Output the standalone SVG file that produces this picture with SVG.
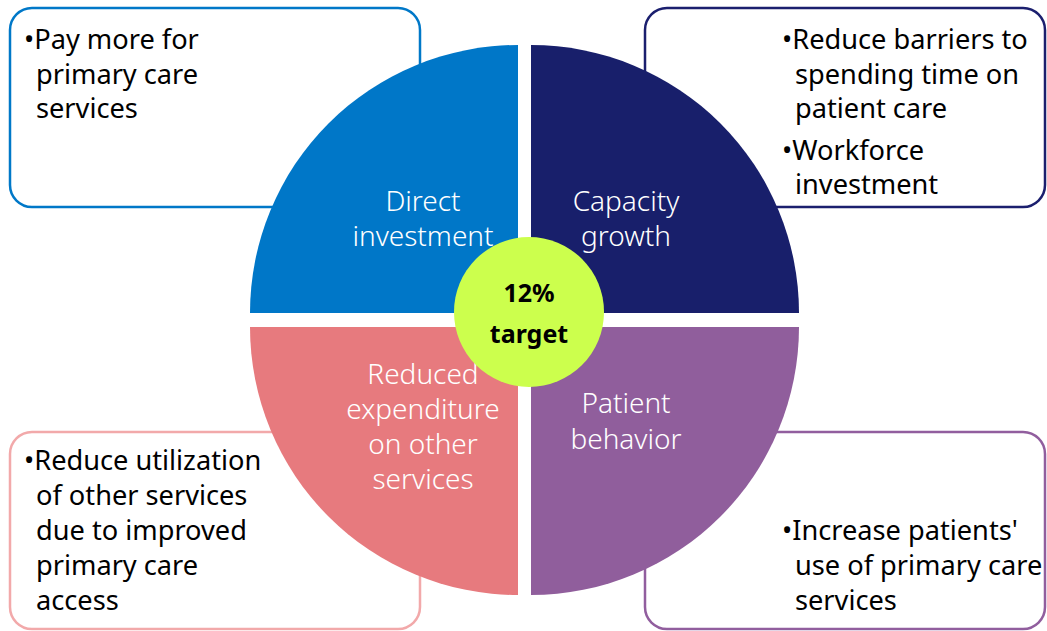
<svg xmlns="http://www.w3.org/2000/svg" width="1047" height="631" viewBox="0 0 1047 631">
<style>
.box{fill:#fff;stroke-width:2.5}
.bt{font-family:"Noto Sans","Open Sans",sans-serif;font-size:27.2px;fill:#000}
.ql{font-family:"Noto Sans","Open Sans",sans-serif;font-size:28px;fill:#fff;text-anchor:middle;font-weight:300}
.ct{font-family:"Noto Sans","Open Sans",sans-serif;font-size:25px;font-weight:bold;fill:#000;text-anchor:middle}
</style>
<rect width="1047" height="631" fill="#fff"/>
<g id="box-tl"><rect class="box" x="10" y="8" width="410" height="199" rx="22" stroke="#0078c8"/>
<text class="bt"><tspan x="24" y="49">•Pay more for</tspan><tspan x="36" y="84">primary care</tspan><tspan x="36" y="118">services</tspan></text></g>
<g id="box-tr"><rect class="box" x="645" y="8" width="400" height="199" rx="22" stroke="#1b1f6e"/>
<text class="bt"><tspan x="782" y="49">•Reduce barriers to</tspan><tspan x="795" y="84">spending time on</tspan><tspan x="795" y="118">patient care</tspan><tspan x="782" y="160">•Workforce</tspan><tspan x="795" y="194">investment</tspan></text></g>
<g id="box-bl"><rect class="box" x="10" y="432" width="410" height="197" rx="22" stroke="#f2a9aa"/>
<text class="bt"><tspan x="24" y="470">•Reduce utilization</tspan><tspan x="36" y="505">of other services</tspan><tspan x="36" y="540">due to improved</tspan><tspan x="36" y="575">primary care</tspan><tspan x="36" y="610">access</tspan></text></g>
<g id="box-br"><rect class="box" x="645" y="432" width="400" height="197" rx="22" stroke="#915e9e"/>
<text class="bt"><tspan x="782" y="540">•Increase patients'</tspan><tspan x="795" y="575">use of primary care</tspan><tspan x="795" y="610">services</tspan></text></g>
<g id="q-tl"><path d="M518,313 L250,313 A268,268 0 0 1 518,45 Z" fill="#0077c8"/>
<text class="ql"><tspan x="423" y="211">Direct</tspan><tspan x="423" y="246">investment</tspan></text></g>
<g id="q-tr"><path d="M531,313 L531,45 A268,268 0 0 1 799,313 Z" fill="#181f6b"/>
<text class="ql"><tspan x="626" y="211">Capacity</tspan><tspan x="626" y="246">growth</tspan></text></g>
<g id="q-bl"><path d="M518,327 L518,595 A268,268 0 0 1 250,327 Z" fill="#e77a7e"/>
<text class="ql"><tspan x="423" y="384">Reduced</tspan><tspan x="423" y="419">expenditure</tspan><tspan x="423" y="454">on other</tspan><tspan x="423" y="489">services</tspan></text></g>
<g id="q-br"><path d="M531,327 L799,327 A268,268 0 0 1 531,595 Z" fill="#905e9c"/>
<text class="ql"><tspan x="626" y="413">Patient</tspan><tspan x="626" y="449">behavior</tspan></text></g>
<g id="center"><circle cx="529" cy="312" r="75" fill="#ccff4d"/>
<text class="ct"><tspan x="529" y="302">12%</tspan><tspan x="529" y="343">target</tspan></text></g>
<g id="connectors"></g>
</svg>
